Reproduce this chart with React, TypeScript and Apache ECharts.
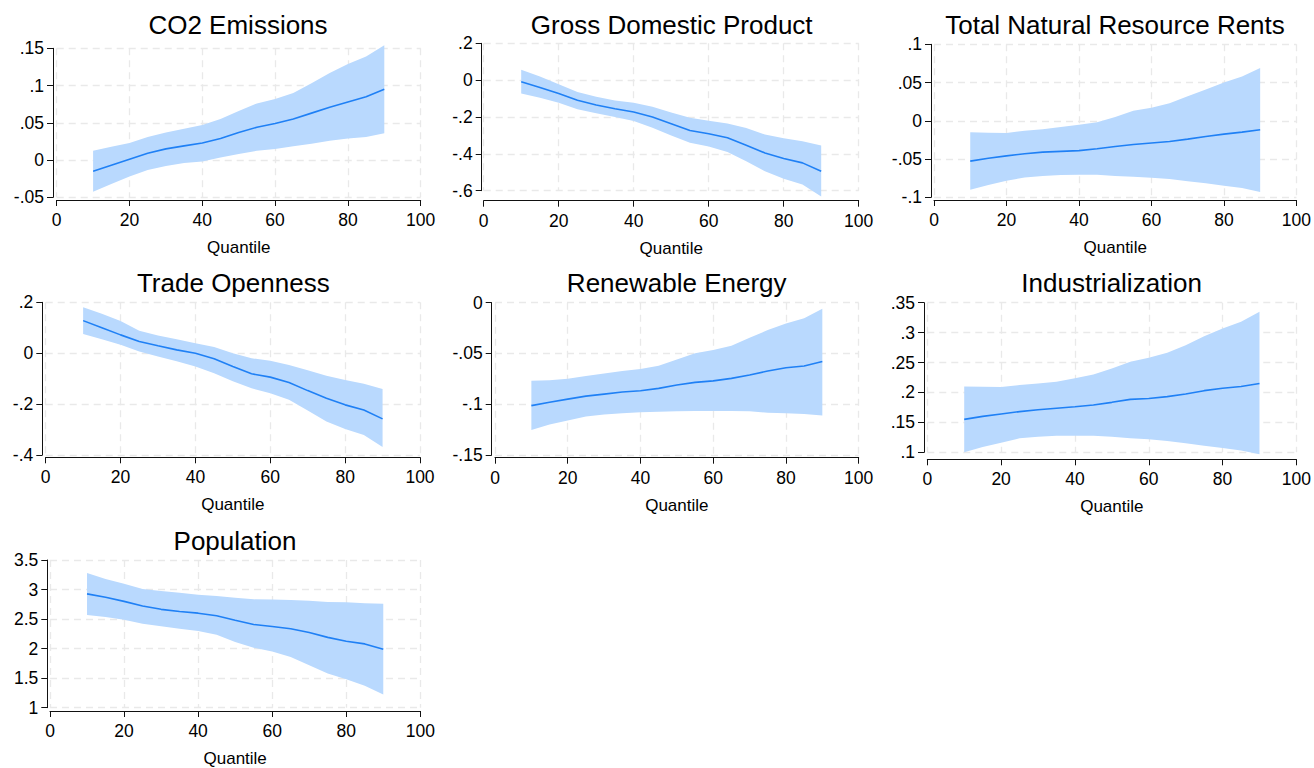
import React, { useEffect, useRef } from "react";
import * as echarts from "echarts";

const quantiles = [10, 15, 20, 25, 30, 35, 40, 45, 50, 55, 60, 65, 70, 75, 80, 85, 90];
// x positions on the category axis (0..100 in steps of 5); labels shown every 20
const xCats = ["0", "5", "10", "15", "20", "25", "30", "35", "40", "45", "50", "55", "60", "65", "70", "75", "80", "85", "90", "95", "100"];

const titles = [
  "CO2 Emissions",
  "Gross Domestic Product",
  "Total Natural Resource Rents",
  "Trade Openness",
  "Renewable Energy",
  "Industrialization",
  "Population",
];

const co2Est = [-0.015, -0.007, 0.001, 0.009, 0.015, 0.019, 0.023, 0.029, 0.037, 0.044, 0.049, 0.055, 0.063, 0.071, 0.078, 0.085, 0.095];
const co2Lo = [-0.0425, -0.032, -0.022, -0.0135, -0.008, -0.004, -0.002, 0.0035, 0.008, 0.0125, 0.015, 0.0185, 0.022, 0.026, 0.029, 0.031, 0.036];
const co2Hi = [0.0125, 0.018, 0.023, 0.031, 0.037, 0.042, 0.047, 0.055, 0.066, 0.076, 0.082, 0.09, 0.103, 0.117, 0.129, 0.139, 0.154];

const gdpEst = [-0.009, -0.04, -0.073, -0.109, -0.135, -0.155, -0.173, -0.2, -0.236, -0.273, -0.291, -0.313, -0.353, -0.395, -0.425, -0.449, -0.495];
const gdpLo = [-0.073, -0.095, -0.122, -0.158, -0.18, -0.2, -0.222, -0.258, -0.3, -0.34, -0.36, -0.39, -0.44, -0.495, -0.535, -0.567, -0.631];
const gdpHi = [0.056, 0.02, -0.022, -0.064, -0.09, -0.11, -0.122, -0.145, -0.175, -0.204, -0.22, -0.235, -0.26, -0.295, -0.315, -0.331, -0.355];

const tnrEst = [-0.0527, -0.049, -0.0458, -0.043, -0.041, -0.04, -0.039, -0.0366, -0.0336, -0.031, -0.029, -0.027, -0.024, -0.0205, -0.0174, -0.0148, -0.0118];
const tnrLo = [-0.09, -0.084, -0.0785, -0.074, -0.072, -0.071, -0.0706, -0.0706, -0.072, -0.073, -0.0745, -0.076, -0.079, -0.0815, -0.085, -0.088, -0.093];
const tnrHi = [-0.015, -0.0155, -0.016, -0.013, -0.011, -0.008, -0.005, -0.002, 0.005, 0.013, 0.017, 0.023, 0.032, 0.041, 0.05, 0.058, 0.069];

const tradeEst = [0.128, 0.1, 0.072, 0.046, 0.029, 0.013, 0.0, -0.022, -0.052, -0.081, -0.094, -0.115, -0.147, -0.177, -0.203, -0.223, -0.258];
const tradeLo = [0.075, 0.055, 0.033, 0.007, -0.013, -0.032, -0.052, -0.079, -0.11, -0.138, -0.157, -0.183, -0.225, -0.268, -0.298, -0.321, -0.369];
const tradeHi = [0.181, 0.155, 0.127, 0.088, 0.07, 0.055, 0.039, 0.024, 0.0, -0.02, -0.03, -0.046, -0.067, -0.089, -0.105, -0.12, -0.141];

const reEst = [-0.1014, -0.098, -0.095, -0.092, -0.09, -0.088, -0.0867, -0.0844, -0.081, -0.0785, -0.077, -0.0745, -0.0712, -0.0673, -0.064, -0.0624, -0.058];
const reLo = [-0.1254, -0.12, -0.116, -0.112, -0.11, -0.109, -0.108, -0.1074, -0.107, -0.1067, -0.1067, -0.1067, -0.107, -0.1083, -0.109, -0.1097, -0.111];
const reHi = [-0.0768, -0.0765, -0.0749, -0.0722, -0.0698, -0.0672, -0.0653, -0.062, -0.056, -0.0499, -0.0465, -0.0424, -0.0345, -0.027, -0.0205, -0.0154, -0.006];

const indEst = [0.155, 0.16, 0.164, 0.168, 0.171, 0.1735, 0.176, 0.179, 0.1835, 0.1885, 0.19, 0.193, 0.1975, 0.203, 0.207, 0.21, 0.215];
const indLo = [0.1, 0.109, 0.116, 0.1234, 0.126, 0.1275, 0.1277, 0.1277, 0.126, 0.1234, 0.122, 0.119, 0.115, 0.111, 0.107, 0.103, 0.0967];
const indHi = [0.21, 0.2095, 0.209, 0.2125, 0.215, 0.218, 0.2236, 0.23, 0.24, 0.2515, 0.258, 0.2665, 0.279, 0.294, 0.307, 0.318, 0.335];

const popEst = [2.927, 2.87, 2.8, 2.72, 2.665, 2.627, 2.6, 2.556, 2.48, 2.408, 2.375, 2.337, 2.272, 2.19, 2.124, 2.08, 1.988];
const popLo = [2.57, 2.535, 2.49, 2.42, 2.38, 2.335, 2.3, 2.233, 2.11, 2.015, 1.95, 1.86, 1.72, 1.58, 1.48, 1.37, 1.224];
const popHi = [3.28, 3.18, 3.1, 3.01, 2.975, 2.945, 2.91, 2.89, 2.86, 2.834, 2.83, 2.823, 2.81, 2.79, 2.785, 2.77, 2.76];

// y-axis tick settings per panel: [min, max, interval]
const yTicks = [
  [-0.05, 0.15, 0.05],
  [-0.6, 0.2, 0.2],
  [-0.1, 0.1, 0.05],
  [-0.4, 0.2, 0.2],
  [-0.15, 0, 0.05],
  [0.1, 0.35, 0.05],
  [1, 3.5, 0.5],
];

const panelData = [
  [co2Est, co2Lo, co2Hi],
  [gdpEst, gdpLo, gdpHi],
  [tnrEst, tnrLo, tnrHi],
  [tradeEst, tradeLo, tradeHi],
  [reEst, reLo, reHi],
  [indEst, indLo, indHi],
  [popEst, popLo, popHi],
];

// layout (pixels)
const layout = [
  { x0: 56.7, x1: 420.7, yt: 48.3, yb: 197.3, ax: 53, ay: 200, tx: 238, ty: 24 },
  { x0: 483.7, x1: 858.7, yt: 43.3, yb: 190.7, ax: 481.7, ay: 200.7, tx: 671.7, ty: 24 },
  { x0: 934, x1: 1297, yt: 44.3, yb: 197.3, ax: 931, ay: 200, tx: 1115, ty: 24 },
  { x0: 45.7, x1: 420, yt: 302.3, yb: 455, ax: 42.3, ay: 457.3, tx: 233.3, ty: 281.7 },
  { x0: 495, x1: 858.7, yt: 302.7, yb: 455, ax: 491.7, ay: 457.7, tx: 676.7, ty: 281.7 },
  { x0: 927.3, x1: 1296.5, yt: 302.7, yb: 452.3, ax: 924, ay: 459.3, tx: 1111.7, ty: 281.7 },
  { x0: 50, x1: 420.3, yt: 560, yb: 712.7, ax: 47.3, ay: 716, tx: 235, ty: 540 },
];

const FONT = "'Liberation Sans', Arial, Helvetica, sans-serif";
const BAND = "#b9d9fe";
const LINE = "#1f80f5";
const GRIDC = "#e9e9e9";

const fmt = (v: number) => {
  const s = String(+v.toFixed(4));
  return s.replace(/^0\./, ".").replace(/^-0\./, "-.");
};

const onCats = (vals: number[]) =>
  xCats.map((c) => {
    const k = quantiles.indexOf(Number(c));
    return k >= 0 ? vals[k] : null;
  });

export default function App() {
  const ref = useRef<HTMLDivElement>(null);
  useEffect(() => {
    if (!ref.current) return;
    const chart = echarts.init(ref.current, null, { renderer: "svg" });
    const grid: any[] = [];
    const xAxis: any[] = [];
    const yAxis: any[] = [];
    const series: any[] = [];
    const title: any[] = [];
    layout.forEach((L, i) => {
      grid.push({
        left: L.x0,
        top: L.yt,
        width: L.x1 - L.x0,
        height: L.yb - L.yt,
        containLabel: false,
      });
      xAxis.push({
        gridIndex: i,
        type: "category",
        data: xCats,
        boundaryGap: false,
        offset: L.ay - L.yb,
        name: "Quantile",
        nameLocation: "middle",
        nameGap: 39,
        nameTextStyle: { fontFamily: FONT, fontSize: 17, color: "#000" },
        axisLine: { show: true, onZero: false, lineStyle: { color: "#111", width: 1 } },
        axisTick: { show: true, interval: 3, length: 6, lineStyle: { color: "#111" } },
        axisLabel: { interval: 3, margin: 11, fontFamily: FONT, fontSize: 17.5, color: "#000" },
        splitLine: { show: true, interval: 3, lineStyle: { color: GRIDC, type: [7, 5], width: 1.3 } },
      });
      const [mn, mx, iv] = yTicks[i];
      yAxis.push({
        gridIndex: i,
        type: "value",
        min: mn,
        max: mx,
        interval: iv,
        offset: L.x0 - L.ax,
        axisLine: { show: true, onZero: false, lineStyle: { color: "#111", width: 1 } },
        axisTick: { show: true, length: 6, lineStyle: { color: "#111" } },
        axisLabel: { margin: 9, fontFamily: FONT, fontSize: 17.5, color: "#000", formatter: fmt },
        splitLine: { show: true, lineStyle: { color: GRIDC, type: [7, 5], width: 1.3 } },
      });
      const [est, lo, hi] = panelData[i];
      series.push({
        type: "line",
        xAxisIndex: i,
        yAxisIndex: i,
        data: onCats(lo),
        stack: "band" + i,
        stackStrategy: "all",
        symbol: "none",
        clip: false,
        lineStyle: { opacity: 0 },
        silent: true,
        z: 1,
      });
      series.push({
        type: "line",
        xAxisIndex: i,
        yAxisIndex: i,
        data: onCats(hi.map((h, k) => h - lo[k])),
        stack: "band" + i,
        stackStrategy: "all",
        symbol: "none",
        clip: false,
        lineStyle: { opacity: 0 },
        areaStyle: { color: BAND, opacity: 1 },
        silent: true,
        z: 1,
      });
      series.push({
        type: "line",
        xAxisIndex: i,
        yAxisIndex: i,
        data: onCats(est),
        symbol: "none",
        clip: false,
        lineStyle: { color: LINE, width: 1.6 },
        silent: true,
        z: 3,
      });
      title.push({
        text: titles[i],
        left: L.tx,
        top: L.ty - 12,
        padding: 0,
        textAlign: "center",
        textStyle: { fontFamily: FONT, fontSize: 26, fontWeight: "normal", color: "#000" },
      });
    });
    chart.setOption({
      animation: false,
      backgroundColor: "#ffffff",
      title,
      grid,
      xAxis,
      yAxis,
      series,
    });
    return () => chart.dispose();
  }, []);
  return (
    <div
      ref={ref}
      style={{ position: "fixed", left: 0, top: 0, width: 1314, height: 768, background: "#fff" }}
    />
  );
}
